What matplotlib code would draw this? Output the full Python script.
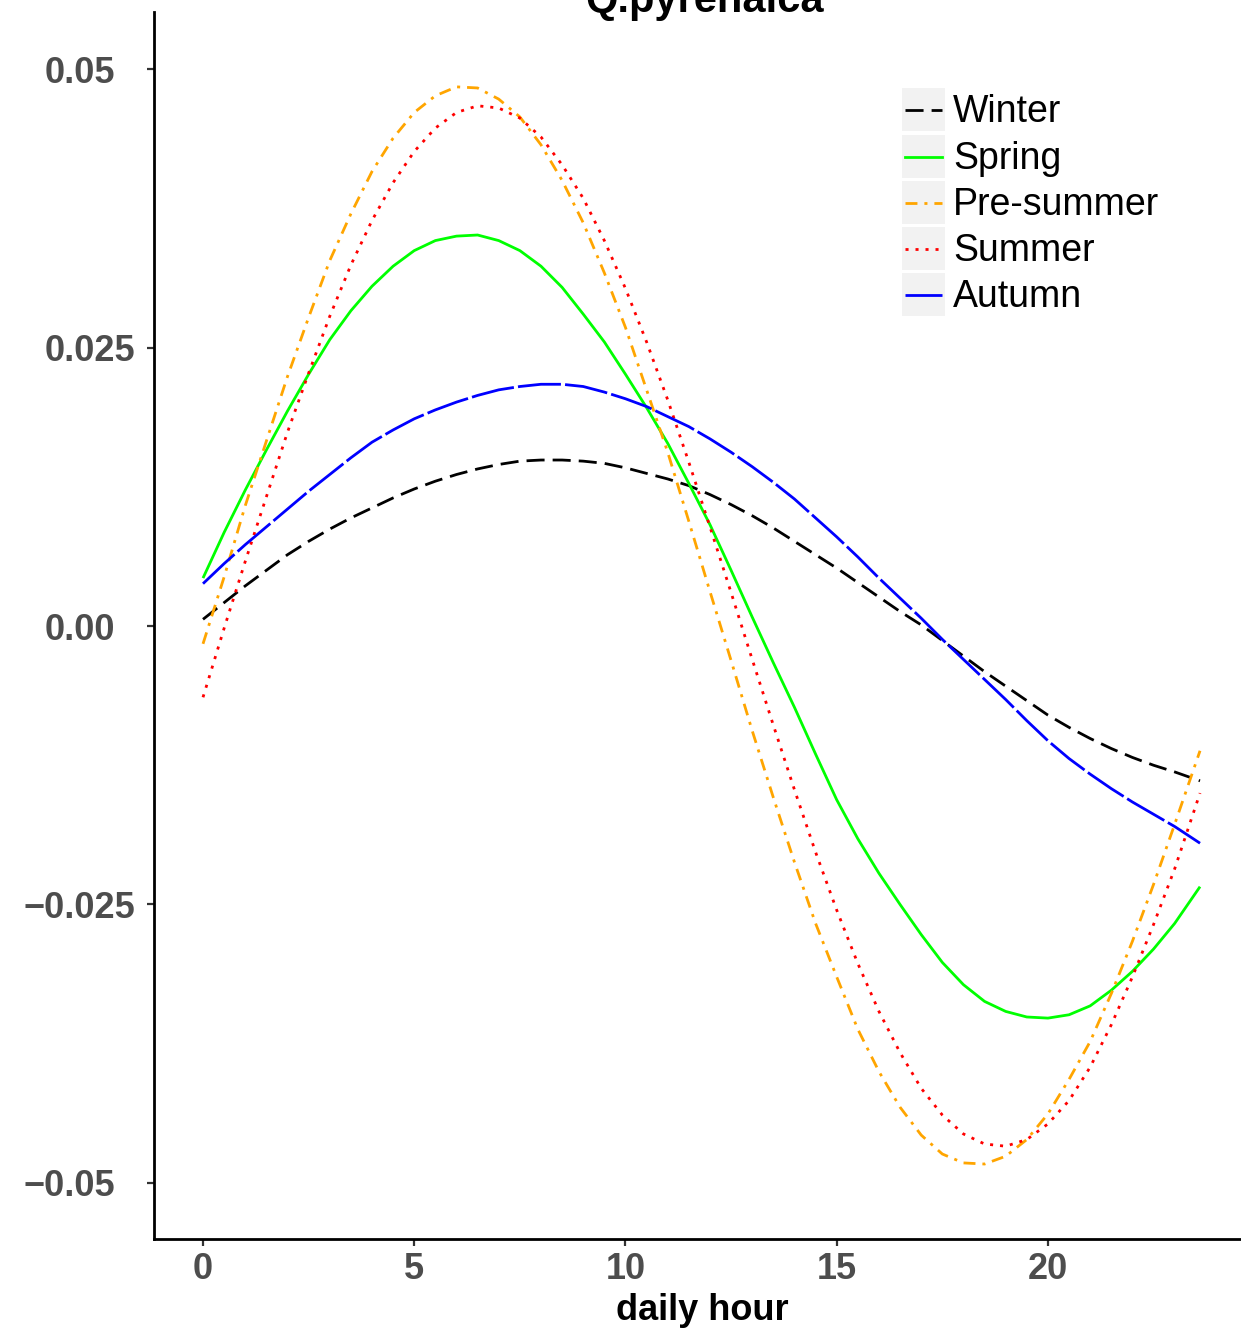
import matplotlib
matplotlib.use("Agg")
import matplotlib.pyplot as plt
from matplotlib import transforms
from matplotlib.patches import Rectangle
from matplotlib.lines import Line2D

plt.rcParams['font.family'] = ['Liberation Sans', 'DejaVu Sans']
plt.rcParams['lines.scale_dashes'] = False

# hour of the day (half-hour readings)
hours = [0, 0.5, 1, 1.5, 2, 2.5, 3, 3.5, 4, 4.5, 5, 5.5, 6, 6.5, 7, 7.5, 8, 8.5, 9, 9.5,
         10, 10.5, 11, 11.5, 12, 12.5, 13, 13.5, 14, 14.5, 15, 15.5, 16, 16.5, 17, 17.5,
         18, 18.5, 19, 19.5, 20, 20.5, 21, 21.5, 22, 22.5, 23, 23.6]

# values
winter = [0.0006, 0.0021, 0.0036, 0.0050, 0.0064, 0.0076, 0.0087, 0.0097, 0.0106, 0.0115,
          0.0123, 0.0130, 0.0136, 0.0141, 0.0145, 0.0148, 0.0149, 0.0149, 0.0148, 0.0146,
          0.0142, 0.0137, 0.0132, 0.0126, 0.0118, 0.0109, 0.0099, 0.0088, 0.0076, 0.0064,
          0.0052, 0.0039, 0.0026, 0.0013, 0.0001, -0.0013, -0.0027, -0.0041, -0.0054, -0.0067,
          -0.0080, -0.0091, -0.0101, -0.0110, -0.0118, -0.0125, -0.0131, -0.0139]
spring = [0.0043, 0.0084, 0.0122, 0.0158, 0.0193, 0.0226, 0.0257, 0.0283, 0.0305, 0.0323,
          0.0337, 0.0346, 0.0350, 0.0351, 0.0346, 0.0337, 0.0323, 0.0304, 0.0280, 0.0255,
          0.0226, 0.0196, 0.0164, 0.0128, 0.0091, 0.0050, 0.0008, -0.0033, -0.0073, -0.0115,
          -0.0156, -0.0191, -0.0222, -0.0250, -0.0277, -0.0302, -0.0322, -0.0337, -0.0346, -0.0351,
          -0.0352, -0.0349, -0.0341, -0.0327, -0.0310, -0.0290, -0.0267, -0.0234]
presummer = [-0.0016, 0.0044, 0.0108, 0.0166, 0.0224, 0.0277, 0.0328, 0.0370, 0.0408, 0.0438,
             0.0461, 0.0476, 0.0484, 0.0483, 0.0473, 0.0457, 0.0432, 0.0400, 0.0362, 0.0317,
             0.0268, 0.0212, 0.0156, 0.0094, 0.0031, -0.0031, -0.0094, -0.0154, -0.0212, -0.0267,
             -0.0315, -0.0362, -0.0400, -0.0432, -0.0457, -0.0474, -0.0482, -0.0483, -0.0476, -0.0461,
             -0.0438, -0.0407, -0.0373, -0.0330, -0.0283, -0.0232, -0.0178, -0.0112]
summer = [-0.0064, -0.0002, 0.0058, 0.0116, 0.0174, 0.0227, 0.0278, 0.0324, 0.0364, 0.0398,
          0.0426, 0.0447, 0.0461, 0.0467, 0.0465, 0.0456, 0.0439, 0.0414, 0.0384, 0.0346,
          0.0303, 0.0255, 0.0203, 0.0147, 0.0089, 0.0030, -0.0030, -0.0089, -0.0147, -0.0203,
          -0.0255, -0.0303, -0.0346, -0.0383, -0.0415, -0.0439, -0.0456, -0.0465, -0.0467, -0.0461,
          -0.0447, -0.0426, -0.0396, -0.0358, -0.0315, -0.0268, -0.0218, -0.0150]
autumn = [0.0038, 0.0056, 0.0073, 0.0089, 0.0105, 0.0121, 0.0136, 0.0151, 0.0165, 0.0176,
          0.0186, 0.0194, 0.0201, 0.0207, 0.0212, 0.0215, 0.0217, 0.0217, 0.0215, 0.0210,
          0.0204, 0.0197, 0.0188, 0.0179, 0.0168, 0.0156, 0.0143, 0.0129, 0.0114, 0.0097,
          0.0080, 0.0062, 0.0043, 0.0025, 0.0007, -0.0012, -0.0030, -0.0048, -0.0066, -0.0085,
          -0.0103, -0.0119, -0.0133, -0.0146, -0.0158, -0.0169, -0.0180, -0.0195]

season_names = ['Winter', 'Spring', 'Pre-summer', 'Summer', 'Autumn']
season_values = [winter, spring, presummer, summer, autumn]
season_colors = ['black', '#00FF00', '#FFA500', '#FF0000', '#0000FF']
season_dashes = [(0, (13, 5.8)), 'solid', (0, (8.6, 5, 2.2, 5)), (0, (2.2, 5)), (0, (31, 3))]

xticks = [0, 5, 10, 15, 20]
yticks = [-0.05, -0.025, 0.0, 0.025, 0.05]
ytick_labels = ['\u22120.05', '\u22120.025', '0.00', '0.025', '0.05']

W, H = 1241, 1330
fig = plt.figure(figsize=(W / 100, H / 100), dpi=100)
ax = fig.add_axes([154 / W, 1 - 1239 / H, (W - 154) / W, 1227 / H])

for name, vals, col, ls in zip(season_names, season_values, season_colors, season_dashes):
    ax.plot(hours, vals, color=col, linestyle=ls, linewidth=2.0,
            dash_capstyle='butt', solid_capstyle='butt', solid_joinstyle='round', label=name)

ax.set_xlim(-1.16, 24.57)
ax.set_ylim(-0.05503, 0.05512)

for s in ['top', 'right']:
    ax.spines[s].set_visible(False)
for s in ['left', 'bottom']:
    ax.spines[s].set_linewidth(2.0)
    ax.spines[s].set_color('black')

ax.set_xticks(xticks)
ax.set_xticklabels([str(t) for t in xticks], fontsize=26, fontweight='bold', color='#4D4D4D')
ax.set_yticks(yticks)
ax.set_yticklabels([])
ax.tick_params(axis='both', length=5, width=1.6, color='#333333')
ax.tick_params(axis='x', pad=4.5)

# y tick labels, right aligned as in the original
trans = transforms.blended_transform_factory(fig.transFigure, ax.transData)
trans = transforms.offset_copy(trans, fig=fig, y=-4, units='dots')
for v, lab in zip(yticks, ytick_labels):
    right_px = 135 if lab.endswith('025') else 115
    ax.text(right_px / W, v, lab, transform=trans, ha='right', va='center',
            fontsize=26, fontweight='bold', color='#4D4D4D')

fig.text(702 / W, 1 - 1320 / H, 'daily hour', ha='center', va='baseline',
         fontsize=26, fontweight='bold', color='black')
fig.text(705 / W, 1 - 12 / H, 'Q.pyrenaica', ha='center', va='baseline',
         fontsize=30, fontweight='bold', color='black')

# legend drawn by hand with grey key boxes
key_tops = [88, 135, 181, 227, 273]
for name, col, ls, top in zip(season_names, season_colors, season_dashes, key_tops):
    fig.patches.append(Rectangle((902 / W, 1 - (top + 43) / H), 43 / W, 43 / H,
                                 transform=fig.transFigure, facecolor='#F2F2F2',
                                 edgecolor='none'))
    yc = 1 - (top + 21.5) / H
    fig.lines.append(Line2D([905 / W, 942 / W], [yc, yc], transform=fig.transFigure,
                            color=col, linestyle=ls, linewidth=2.0, dash_capstyle='butt'))
    fig.text(953 / W, 1 - (top + 34) / H, name, ha='left', va='baseline',
             fontsize=27, color='black')

fig.savefig('out.png', dpi=100)
